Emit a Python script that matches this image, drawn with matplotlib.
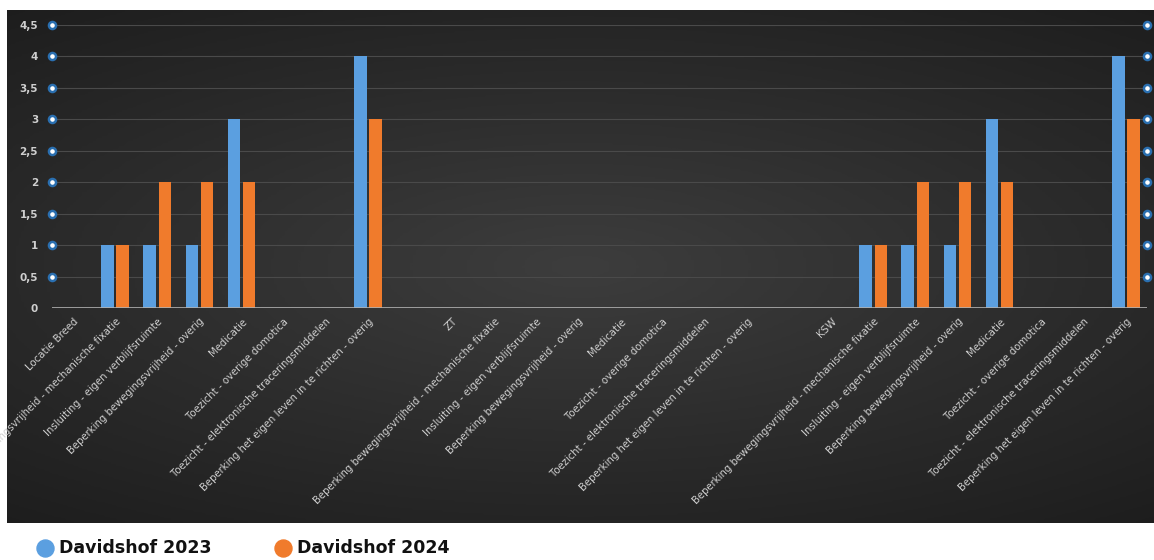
"""Vrijheidsbeperkende maatregelen per locatie, Davidshof 2023 vs 2024."""
import matplotlib

matplotlib.use("Agg")
import matplotlib.pyplot as plt
import numpy as np
from matplotlib.colors import LinearSegmentedColormap

sub_items = [
    "Beperking bewegingsvrijheid - mechanische fixatie",
    "Insluiting - eigen verblijfsruimte",
    "Beperking bewegingsvrijheid - overig",
    "Medicatie",
    "Toezicht - overige domotica",
    "Toezicht - elektronische traceringsmiddelen",
    "Beperking het eigen leven in te richten - overig",
]
groups = ["Locatie Breed", "ZT", "KSW"]

# values per group: [group row, 7 sub items]
vals_2023 = {
    "Locatie Breed": [0, 1, 1, 1, 3, 0, 0, 4],
    "ZT": [0, 0, 0, 0, 0, 0, 0, 0],
    "KSW": [0, 1, 1, 1, 3, 0, 0, 4],
}
vals_2024 = {
    "Locatie Breed": [0, 1, 2, 2, 2, 0, 0, 3],
    "ZT": [0, 0, 0, 0, 0, 0, 0, 0],
    "KSW": [0, 1, 2, 2, 2, 0, 0, 3],
}
yticks = [0, 0.5, 1, 1.5, 2, 2.5, 3, 3.5, 4, 4.5]
ytick_labels = ["0", "0,5", "1", "1,5", "2", "2,5", "3", "3,5", "4", "4,5"]

# build category list with an empty slot between groups
labels, v23, v24 = [], [], []
for i, g in enumerate(groups):
    if i > 0:
        labels.append("")
        v23.append(0)
        v24.append(0)
    labels += [g] + sub_items
    v23 += vals_2023[g]
    v24 += vals_2024[g]

C_BLUE = "#5b9fe0"
C_ORANGE = "#f07b2c"
TXT = "#cfcfcf"

W, H = 1154, 560
fig = plt.figure(figsize=(W / 100, H / 100), dpi=100)
fig.patch.set_facecolor("white")

# dark backdrop with a soft radial gradient
bg = fig.add_axes([7 / W, 1 - 523 / H, 1 - 7 / W, 513 / H])
yy, xx = np.mgrid[-1:1:200j, -1:1:400j]
r = np.sqrt((xx * 0.9) ** 2 + (yy * 1.1) ** 2)
cmap_bg = LinearSegmentedColormap.from_list("bg", ["#3d3d3d", "#2c2c2c", "#1c1c1c"])
bg.imshow(r, cmap=cmap_bg, aspect="auto", extent=[0, 1, 0, 1], vmin=0, vmax=1.5)
bg.axis("off")

ax = fig.add_axes([52 / W, 1 - 308 / H, 1095 / W, 283 / H])
ax.set_facecolor("none")
x = np.arange(len(labels))
bw = 0.3
ax.bar(x - 0.18, v23, bw, color=C_BLUE, zorder=3)
ax.bar(x + 0.18, v24, bw, color=C_ORANGE, zorder=3)

ax.set_xlim(-0.5, len(labels) - 0.5)
ax.set_ylim(0, 4.5)
for s in ax.spines.values():
    s.set_visible(False)
ax.axhline(0, color="#b0b0b0", lw=1.2, zorder=4)
for t in yticks[1:]:
    ax.axhline(t, color="#4a4a4a", lw=0.8, zorder=1)

ax.set_yticks(yticks)
ax.set_yticklabels(ytick_labels, color=TXT, fontsize=7.5, fontweight="bold")
ax.tick_params(axis="y", length=0, pad=10)
ax.set_xticks(x)
ax.set_xticklabels(labels, rotation=45, ha="right", rotation_mode="anchor",
                   color=TXT, fontsize=7.3)
ax.tick_params(axis="x", length=0, pad=6)

# dotted markers on both y edges
for xe in (-0.5, len(labels) - 0.5):
    ax.scatter([xe] * 9, yticks[1:], s=26, color="white", edgecolor="#2a6fb0",
               lw=1.8, zorder=5, clip_on=False)

# legend below the dark panel
leg = fig.add_axes([0, 0, 1, 30 / H])
leg.axis("off")
leg.set_xlim(0, W)
leg.set_ylim(0, 30)
for lx, name, col in [(45, "Davidshof 2023", C_BLUE), (283, "Davidshof 2024", C_ORANGE)]:
    leg.scatter([lx], [12], s=150, color=col)
    leg.text(lx + 14, 12, name, fontsize=12.5, fontweight="bold", color="#111111",
             va="center", ha="left")

fig.savefig("out.png", dpi=100)
